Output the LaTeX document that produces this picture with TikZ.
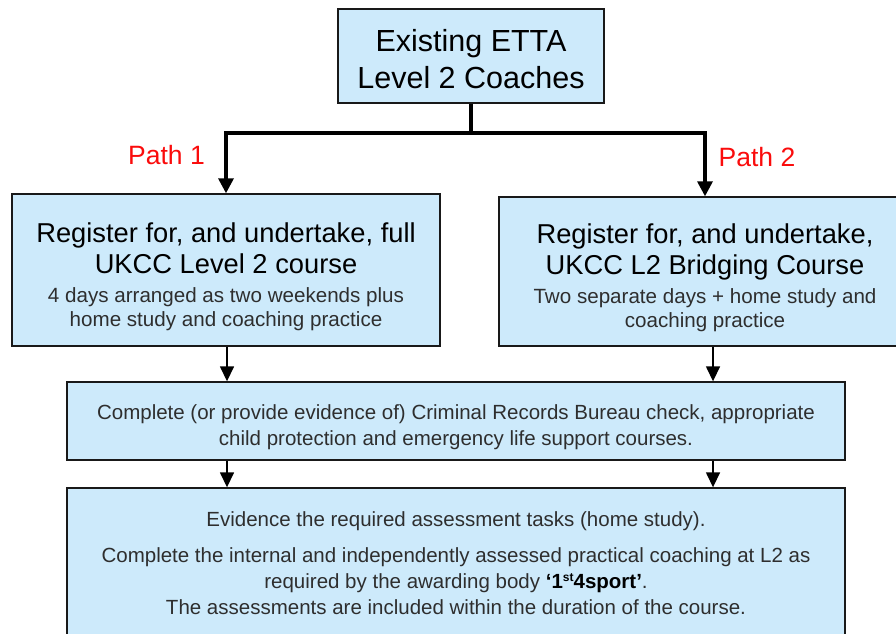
\documentclass[tikz,border=0pt]{standalone}
\usepackage{fontspec}
\setmainfont{Liberation Sans}
\usetikzlibrary{arrows.meta}
\definecolor{boxblue}{RGB}{205,234,251}
\definecolor{pathred}{RGB}{250,12,12}
\newcommand{\plainspaces}{\spaceskip=\fontdimen2\font\relax\xspaceskip=\fontdimen2\font\relax}
\newcommand{\headtext}{\fontsize{30.5}{37}\selectfont\plainspaces\color{black}}
\newcommand{\titletext}{\fontsize{27.3}{31}\selectfont\plainspaces\color{black}}
\newcommand{\subtext}{\fontsize{20.6}{24}\selectfont\plainspaces\color{black!82}}
\newcommand{\bodytext}{\fontsize{20.5}{26}\selectfont\plainspaces\color{black!82}}
\newcommand{\supst}{\raisebox{6.5pt}{\fontsize{12}{12}\selectfont st}}

\begin{document}
\begin{tikzpicture}[x=1pt,y=-1pt,
  box/.style={draw=black!90,line width=1.4pt,fill=boxblue,align=center,inner sep=0pt},
  bigtip/.tip={Triangle[width=15pt,length=15pt]},
  smalltip/.tip={Triangle[width=14pt,length=15pt]},
  mainline/.style={line width=3.3pt},
  arrowline/.style={line width=1.5pt,-smalltip},
  pathlabel/.style={text=pathred,font=\fontsize{26.5}{30}\selectfont}]
\useasboundingbox (0,0) rectangle (896,633);
\clip (0,0) rectangle (896,633);
\node[box,minimum width=266pt,minimum height=94pt,text width=256pt] (coaches) at (471,56) {{\headtext\rule{0pt}{28pt}Existing ETTA\\Level 2 Coaches\par}};
\node[box,minimum width=428pt,minimum height=152pt,text width=416pt] (path1) at (226,270) {{\titletext\rule{0pt}{34pt}Register for, and undertake, full\\UKCC Level 2 course\par}\vspace{5pt}{\subtext 4 days arranged as two weekends plus\\home study and coaching practice\par}};
\node[box,minimum width=412pt,minimum height=149pt,text width=400pt] (path2) at (705,271.5) {{\titletext\rule{0pt}{33pt}Register for, and undertake,\\UKCC L2 Bridging Course\par}\vspace{5pt}{\subtext Two separate days + home study and\\coaching practice\par}};
\node[box,minimum width=778pt,minimum height=78pt,text width=766pt] (checks) at (456,421) {{\bodytext\rule{0pt}{27pt}Complete (or provide evidence of) Criminal Records Bureau check, appropriate\\child protection and emergency life support courses.\par}};
\node[box,minimum width=778pt,minimum height=150pt,text width=766pt] (assess) at (456,563) {{\bodytext Evidence the required assessment tasks (home study).\par}\vspace{10pt}{\bodytext Complete the internal and independently assessed practical coaching at L2 as\\required by the awarding body {\color{black}\bfseries ‘1\supst4sport’}.\\The assessments are included within the duration of the course.\par}};
\node[pathlabel] (label1) at (166.5,155) {Path 1};
\node[pathlabel] (label2) at (757,157) {Path 2};
\coordinate (split) at (471,133);
\coordinate (llow) at (227,0);
\coordinate (rlow) at (713,0);
\draw[mainline] (coaches.south) -- (split);
\draw[mainline,bigtip-bigtip] (path1.north) |- (split) -| (path2.north);
\draw[arrowline] (path1.south -| llow) -- (checks.north -| llow);
\draw[arrowline] (path2.south -| rlow) -- (checks.north -| rlow);
\draw[arrowline] (checks.south -| llow) -- (assess.north -| llow);
\draw[arrowline] (checks.south -| rlow) -- (assess.north -| rlow);
\end{tikzpicture}
\end{document}
